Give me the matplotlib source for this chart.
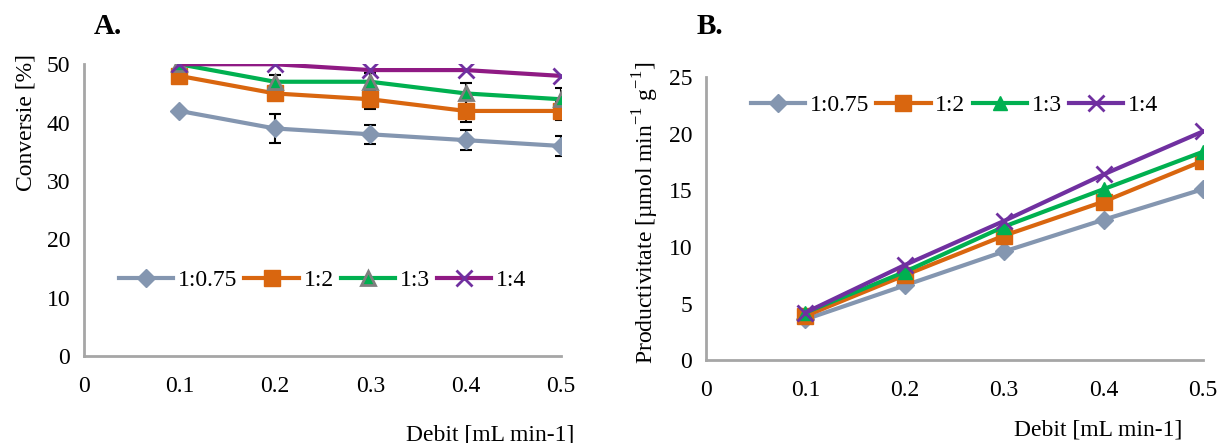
import numpy as np
import matplotlib
matplotlib.use("Agg")
import matplotlib.pyplot as plt

plt.rcParams['font.family'] = ['Liberation Serif', 'DejaVu Serif']
plt.rcParams['mathtext.fontset'] = 'custom'
plt.rcParams['mathtext.rm'] = 'Liberation Serif'

# data
debit = [0.1, 0.2, 0.3, 0.4, 0.5]
labels = ['1:0.75', '1:2', '1:3', '1:4']

conv_075 = [42, 39, 38, 37, 36]
conv_2 = [48, 45, 44, 42, 42]
conv_3 = [50, 47, 47, 45, 44]
conv_4 = [50, 50, 49, 49, 48]
err_075 = [0, 2.5, 1.6, 1.7, 1.7]
err_2 = [0, 1.0, 1.7, 1.9, 1.5]
err_3 = [0, 1.1, 1.5, 1.8, 1.9]
err_4 = [0, 0, 0, 0, 0]

prod_075 = [3.6, 6.6, 9.6, 12.4, 15.1]
prod_2 = [3.9, 7.5, 11.0, 14.0, 17.6]
prod_3 = [4.2, 7.8, 11.8, 15.1, 18.4]
prod_4 = [4.2, 8.4, 12.3, 16.4, 20.2]

gray = '#8496b0'
orange = '#d9660f'
green = '#00b050'
purple_a = '#8f1a84'
purple_b = '#7030a0'
fs = 17

fig = plt.figure(figsize=(12.2, 4.43), dpi=100)
axA = fig.add_axes([0.0689, 0.196, 0.391, 0.659])
axB = fig.add_axes([0.5787, 0.187, 0.4073, 0.639])

# panel A
convs = [conv_075, conv_2, conv_3, conv_4]
errs = [err_075, err_2, err_3, err_4]
stylesA = [
    dict(color=gray, marker='D', ms=9, mfc=gray, mec=gray),
    dict(color=orange, marker='s', ms=11, mfc=orange, mec=orange),
    dict(color=green, marker='^', ms=10, mfc=green, mec='#7f7f7f', mew=2),
    dict(color=purple_a, marker='x', ms=11, mec=purple_b, mew=2),
]
for y, e, lab, st in zip(convs, errs, labels, stylesA):
    x_err = [d for d, v in zip(debit, e) if v > 0]
    y_err = [d for d, v in zip(y, e) if v > 0]
    e_err = [v for v in e if v > 0]
    if e_err:
        axA.errorbar(x_err, y_err, yerr=e_err, fmt='none', ecolor='black',
                     elinewidth=1.5, capsize=4, capthick=1.5, zorder=2)
    axA.plot(debit, y, lw=3, label=lab, zorder=3, **st)

axA.set_xlim(0, 0.5)
axA.set_ylim(0, 50)
axA.set_xticks([0, 0.1, 0.2, 0.3, 0.4, 0.5])
axA.set_xticklabels(['0', '0.1', '0.2', '0.3', '0.4', '0.5'])
axA.set_yticks([0, 10, 20, 30, 40, 50])
axA.set_ylabel('Conversie [%]', fontsize=fs)
axA.yaxis.set_label_coords(-0.1, 0.8)
axA.legend(loc='center', bbox_to_anchor=(0.5, 0.26), ncol=4, frameon=False,
           fontsize=fs, handlelength=2.3, columnspacing=0.3, handletextpad=0.2)
fig.text(0.077, 0.97, 'A.', fontsize=21, fontweight='bold', va='top')
fig.text(0.402, -0.005, 'Debit [mL min-1]', fontsize=fs, ha='center', va='bottom')

# panel B
prods = [prod_075, prod_2, prod_3, prod_4]
stylesB = [
    dict(color=gray, marker='D', ms=9),
    dict(color=orange, marker='s', ms=11),
    dict(color=green, marker='^', ms=10),
    dict(color=purple_b, marker='x', ms=11, mew=2),
]
for y, lab, st in zip(prods, labels, stylesB):
    axB.plot(debit, y, lw=3, label=lab, **st)

axB.set_xlim(0, 0.5)
axB.set_ylim(0, 25)
axB.set_xticks([0, 0.1, 0.2, 0.3, 0.4, 0.5])
axB.set_xticklabels(['0', '0.1', '0.2', '0.3', '0.4', '0.5'])
axB.set_yticks([0, 5, 10, 15, 20, 25])
axB.set_ylabel('Productivitate [µmol min$^{\\mathregular{-1}}$ g$^{\\mathregular{-1}}$]',
               fontsize=fs)
axB.yaxis.set_label_coords(-0.09, 0.52)
axB.legend(loc='center', bbox_to_anchor=(0.5, 0.9), ncol=4, frameon=False,
           fontsize=fs, handlelength=2.3, columnspacing=0.3, handletextpad=0.2)
fig.text(0.571, 0.97, 'B.', fontsize=21, fontweight='bold', va='top')
fig.text(0.9, 0.005, 'Debit [mL min-1]', fontsize=fs, ha='center', va='bottom')

for ax in (axA, axB):
    for s in ('top', 'right'):
        ax.spines[s].set_visible(False)
    for s in ('left', 'bottom'):
        ax.spines[s].set_color('#a6a6a6')
        ax.spines[s].set_linewidth(2)
    ax.tick_params(length=0, labelsize=fs)
    ax.tick_params(axis='x', pad=14)
    ax.tick_params(axis='y', pad=10)
    ax.patch.set_alpha(0)

fig.savefig('out.png', dpi=100)
